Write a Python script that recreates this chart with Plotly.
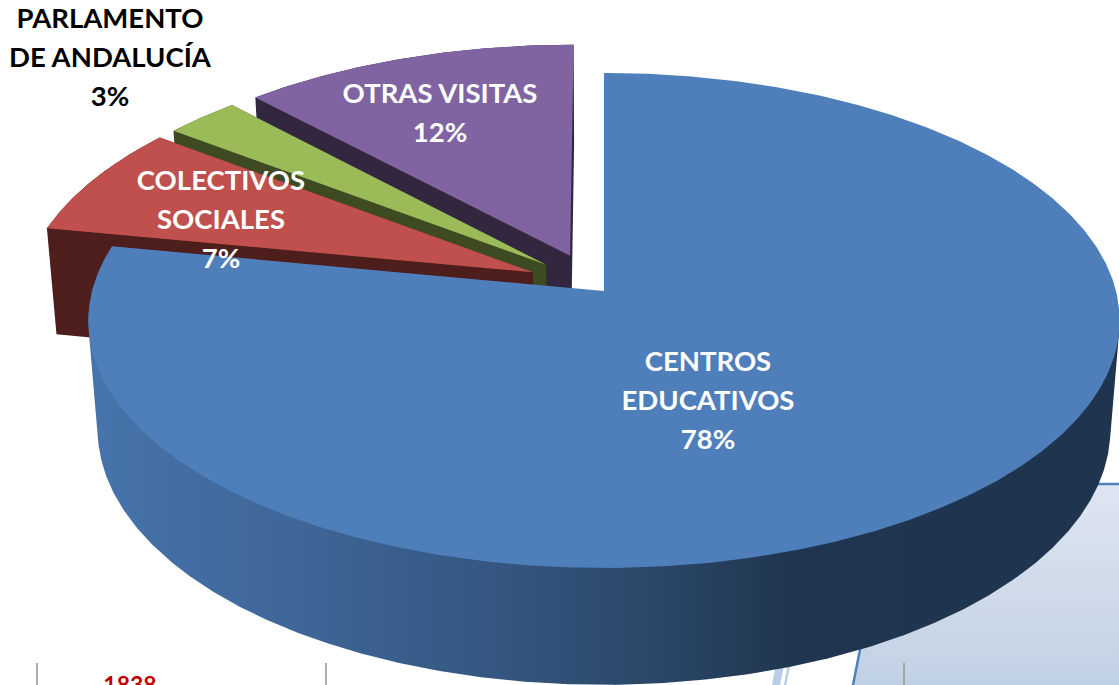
import math
import plotly.graph_objects as go

# ---- chart data ----
categories = ["CENTROS EDUCATIVOS", "COLECTIVOS SOCIALES", "PARLAMENTO DE ANDALUCÍA", "OTRAS VISITAS"]
values = [78, 7.3, 2.7, 12]
label_lines = [["CENTROS", "EDUCATIVOS"], ["COLECTIVOS", "SOCIALES"], ["PARLAMENTO", "DE ANDALUCÍA"], ["OTRAS VISITAS"]]
footer_label = "1838"

# ---- style ----
top_colors = ["#4f7fbb", "#c0504d", "#9bbb59", "#8064a2"]
wall_colors = [None, "#4d1e1c", "#3e4a22", "#33263f"]
label_colors = ["white", "white", "black", "white"]
explode = [0, 0.16, 0.158, 0.162]
explode_turn = [0, 5, 1.7, -3]
label_anchor = [(708, 364), (221, 183), (110, 21), (440, 96)]
LINE_STEP = [39, 39, 39, 39]
FONT = "Lato"
FSIZE = 27.5

# ---- projection of the tilted disc ----
CX, CY, RX, RY, K, M, H = 604, 291, 512, 244, 0.119, 0.018, 110
W, HT = 1119, 685


def project(u, v, z=0):
    w = 1 + K * v + M * z
    return CX + RX * u / w, CY + (-RY * v + H * z) / w


def arc(a0, a1, off=(0, 0), z=0, n=None):
    n = n or max(2, int(abs(a1 - a0) * 2))
    pts = []
    for i in range(n + 1):
        a = math.radians(a0 + (a1 - a0) * i / n)
        pts.append(project(math.sin(a) + off[0], math.cos(a) + off[1], z))
    return pts


def hull(points):
    pts = sorted(set(points))
    def cross(o, a, b):
        return (a[0] - o[0]) * (b[1] - o[1]) - (a[1] - o[1]) * (b[0] - o[0])
    lo, up = [], []
    for p in pts:
        while len(lo) >= 2 and cross(lo[-2], lo[-1], p) <= 0:
            lo.pop()
        lo.append(p)
    for p in reversed(pts):
        while len(up) >= 2 and cross(up[-2], up[-1], p) <= 0:
            up.pop()
        up.append(p)
    return lo[:-1] + up[:-1]


def poly(points, color=None, **kw):
    xs = [p[0] for p in points] + [points[0][0]]
    ys = [p[1] for p in points] + [points[0][1]]
    args = dict(x=xs, y=ys, mode="lines", line=dict(width=0), fill="toself",
                hoverinfo="skip", showlegend=False)
    if color:
        args["fillcolor"] = color
    args.update(kw)
    return go.Scatter(**args)


fig = go.Figure()

# backdrop pieces that show below the chart
fig.add_trace(poly([(893, 484), (1125, 484), (1125, 690), (852, 690)],
                   fillgradient=dict(type="vertical",
                                     colorscale=[[0, "#c0d0e4"], [0.5, "#d0dbea"], [1, "#dee4f2"]])))
for x0, y0, x1, y1, c, wd in [(893, 484, 1125, 484, "#4f81bd", 2.5), (893, 484, 852, 690, "#4f81bd", 2.5),
                              (775, 690, 780, 665, "#b9cde5", 8), (784, 690, 789, 665, "#b9cde5", 2.5)]:
    fig.add_trace(go.Scatter(x=[x0, x1], y=[y0, y1], mode="lines", line=dict(color=c, width=wd),
                             hoverinfo="skip", showlegend=False))
for x in [37, 326, 615, 904]:
    fig.add_trace(go.Scatter(x=[x, x], y=[663, 690], mode="lines", line=dict(color="#9a9a9a", width=1.6),
                             hoverinfo="skip", showlegend=False))

# slices
total = sum(values)
starts, a = [], 0.0
for v in values:
    starts.append(a)
    a += v / total * 360

# exploded slices, back to front
for i in [3, 2, 1]:
    a0, a1 = starts[i], starts[i] + values[i] / total * 360
    d = math.radians((a0 + a1) / 2 + explode_turn[i])
    off = (explode[i] * math.sin(d), explode[i] * math.cos(d))
    top = [project(off[0], off[1], 0)] + arc(a0, a1, off, 0)
    bot = [project(off[0], off[1], 1)] + arc(a0, a1, off, 1)
    fig.add_trace(poly(hull(top + bot), wall_colors[i]))
    fig.add_trace(poly(top, top_colors[i]))

# main slice: wall (silhouette of the front half), then top
a0, a1 = starts[0], starts[0] + values[0] / total * 360
wall = hull(arc(96, 265, z=0) + arc(96, 265, z=1))
fig.add_trace(poly(wall, fillgradient=dict(
    type="horizontal",
    colorscale=[[0, "#4674ac"], [0.2, "#3f6698"], [0.4, "#345680"], [0.55, "#2b4768"],
                [0.68, "#203650"], [1, "#1f344e"]])))
fig.add_trace(poly([project(0, 0, 0)] + arc(a0, a1), top_colors[0]))

# labels
for i, lines in enumerate(label_lines):
    ax, ay = label_anchor[i]
    for j, t in enumerate(lines + [f"{round(values[i])}%"]):
        fig.add_trace(go.Scatter(x=[ax], y=[ay + j * LINE_STEP[i]], mode="text", text=[t],
                                 textposition="middle center", hoverinfo="skip", showlegend=False,
                                 textfont=dict(family=FONT, size=FSIZE, color=label_colors[i], weight="bold")))
fig.add_trace(go.Scatter(x=[130], y=[687], mode="text", text=[footer_label], textposition="middle center",
                         hoverinfo="skip", showlegend=False,
                         textfont=dict(family=FONT, size=23, color="#c00000", weight="bold")))

fig.update_layout(
    width=W, height=HT, margin=dict(l=0, r=0, t=0, b=0), autosize=False,
    paper_bgcolor="white", plot_bgcolor="white", showlegend=False,
    xaxis=dict(range=[0, W], visible=False, fixedrange=True),
    yaxis=dict(range=[HT, 0], visible=False, fixedrange=True),
)
fig.write_html("out.html", config=dict(displayModeBar=False),
               post_script="document.body.style.margin='0';document.body.style.overflow='hidden';")
